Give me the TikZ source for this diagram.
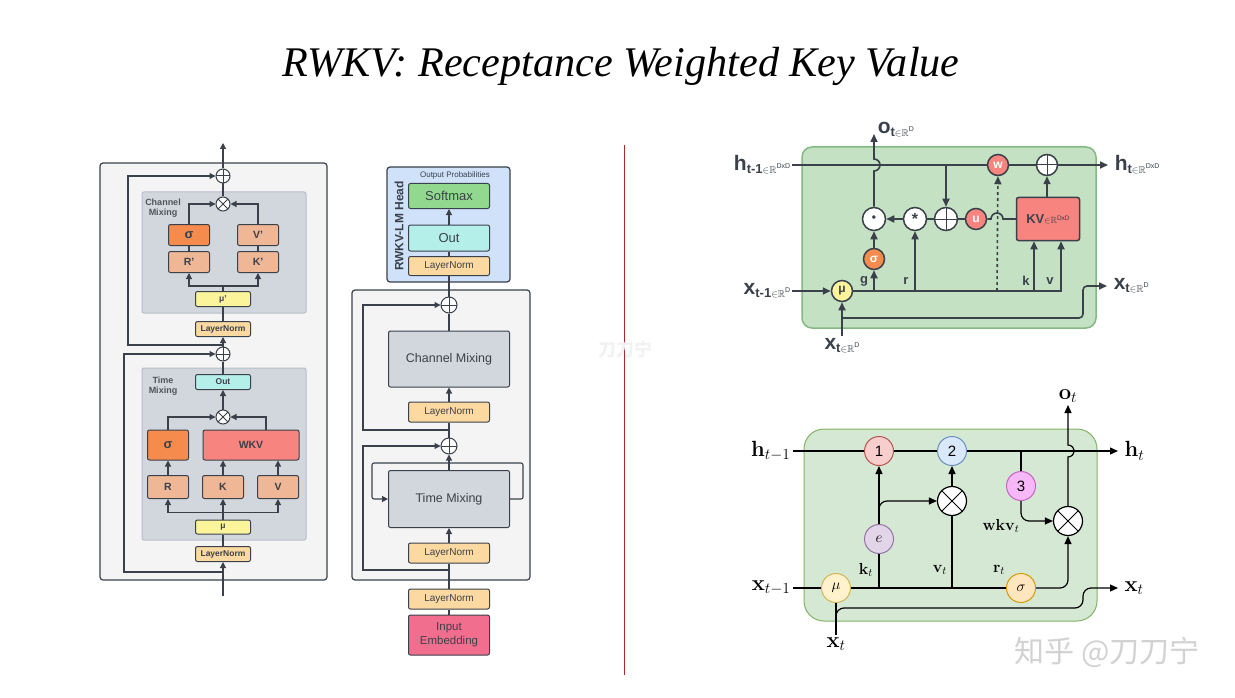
\RequirePackage{fix-cm}
\documentclass[tikz,border=0pt]{standalone}
\usepackage{amssymb}
\usepackage[no-math]{fontspec}
\setmainfont{Liberation Sans}
\newfontfamily\titlefont{Liberation Serif}
\newfontfamily\cjkfont{Noto Sans CJK SC}
\usetikzlibrary{arrows.meta,positioning}
\definecolor{linec}{HTML}{3B414B}
\definecolor{outerfill}{HTML}{F4F4F5}
\definecolor{mixfill}{HTML}{D2D6DD}
\definecolor{mixline}{HTML}{B9BEC6}
\definecolor{lnfill}{HTML}{FCD9A0}
\definecolor{salmon}{HTML}{F0B796}
\definecolor{orng}{HTML}{F58B4C}
\definecolor{wkvred}{HTML}{F7847F}
\definecolor{muyel}{HTML}{FBF49A}
\definecolor{outcyan}{HTML}{B4EFEA}
\definecolor{smgreen}{HTML}{92D88E}
\definecolor{embpink}{HTML}{F26E8E}
\definecolor{headblue}{HTML}{CFE2FA}
\definecolor{grnfill}{HTML}{C4E1C3}
\definecolor{grnline}{HTML}{84BA82}
\definecolor{cellfill}{HTML}{D5E8D4}
\definecolor{cellline}{HTML}{82B366}
\definecolor{divred}{HTML}{B02A2A}
% labels of the top right cell, e.g. h_{t-1 in R^DxD}
\newcommand\vlab[3]{{\bfseries\fontsize{21}{21}\selectfont #1}{\bfseries\fontsize{13}{13}\selectfont\raisebox{-3pt}{#2}}{\fontsize{10}{10}\selectfont\raisebox{-3pt}{${\in}\mathbb{R}$}}{\fontsize{7}{7}\selectfont\raisebox{2pt}{#3}}}
\begin{document}
\begin{tikzpicture}[x=1pt,y=-1pt,
    arr/.style={-{Triangle[length=6pt,width=6pt]}},
    barr/.style={-{Triangle[length=8pt,width=7pt]}},
    box/.style={draw, line width=1pt, rounded corners=2pt, inner sep=0pt},
    tinybox/.style={box, minimum width=55pt, minimum height=15pt, font=\bfseries\fontsize{8.5}{9}\selectfont},
    midbox/.style={box, minimum width=41pt, minimum height=23pt, font=\bfseries\fontsize{10.5}{12}\selectfont},
    widebox/.style={box, minimum width=81pt, minimum height=20pt, font=\fontsize{10}{12}\selectfont},
    bigbox/.style={box, fill=mixfill, minimum width=121pt, minimum height=56pt, font=\fontsize{12.5}{14}\selectfont},
    grp/.style={align=center, font=\bfseries\fontsize{9}{10}\selectfont, text=linec!90},
    sumop/.style={circle, draw, fill=white, line width=1pt, inner sep=0pt, minimum size=#1,
      path picture={\draw[line width=1pt] (path picture bounding box.north) -- (path picture bounding box.south)
        (path picture bounding box.west) -- (path picture bounding box.east);}},
    sumop/.default=14pt,
    prodop/.style={circle, draw, fill=white, line width=1pt, inner sep=0pt, minimum size=#1,
      path picture={\draw[line width=1pt] (path picture bounding box.north west) -- (path picture bounding box.south east)
        (path picture bounding box.north east) -- (path picture bounding box.south west);}},
    prodop/.default=14pt,
    dotop/.style={circle, draw, line width=1.5pt, inner sep=0pt, minimum size=21pt, font=\bfseries\fontsize{12}{12}\selectfont},
    cell/.style={circle, draw, line width=1pt, inner sep=0pt, minimum size=29pt, font=\fontsize{15}{15}\selectfont},
    blab/.style={font=\fontsize{22}{22}\selectfont, inner sep=2pt},
    slab/.style={font=\fontsize{16}{16}\selectfont, inner sep=1pt}]
\fill[white] (0,0) rectangle (1235,698);
\useasboundingbox (0,0) rectangle (1235,698);

\node[font=\titlefont\itshape\fontsize{42.2}{48}\selectfont, anchor=base] (title) at (621,77) {RWKV: Receptance Weighted Key Value};

% ---------- block detail
\begin{scope}[color=linec, line width=1.1pt]
\draw[fill=outerfill, line width=1.2pt, rounded corners=3pt] (100,163) rectangle (327,580);
\draw[fill=mixfill, draw=mixline, line width=1pt, rounded corners=2pt] (142,192) rectangle (306,313);
\draw[fill=mixfill, draw=mixline, line width=1pt, rounded corners=2pt] (142,368) rectangle (306,540);
\node[grp] at (163,208) {Channel\\Mixing};
\node[grp] at (163,386) {Time\\Mixing};
\coordinate (tin) at (223,596);
\coordinate (ctop) at (223,143);
\node[tinybox, fill=lnfill] (tln) at (223,554) {LayerNorm};
\node[tinybox, fill=muyel, minimum height=14pt] (tmu) at (223,527) {μ};
\node[midbox, fill=salmon] (tr) at (168,487) {R};
\node[midbox, fill=salmon] (tk) at (223,487) {K};
\node[midbox, fill=salmon] (tv) at (278,487) {V};
\node[midbox, fill=orng, minimum height=30pt, font=\bfseries\fontsize{13}{13}\selectfont] (tsig) at (168,445) {σ};
\node[midbox, fill=wkvred, minimum width=96pt, minimum height=30pt] (twkv) at (251,445) {WKV};
\node[prodop] (tmul) at (223,417) {};
\node[tinybox, fill=outcyan] (tout) at (223,382) {Out};
\node[sumop] (tadd) at (223,354) {};
\node[tinybox, fill=lnfill] (cln) at (223,329) {LayerNorm};
\node[tinybox, fill=muyel] (cmu) at (223,299) {μ'};
\node[midbox, fill=salmon, minimum height=21pt] (cr) at (189,262) {R'};
\node[midbox, fill=orng, minimum height=21pt, font=\bfseries\fontsize{13}{13}\selectfont] (csig) at (189,235) {σ};
\node[midbox, fill=salmon, minimum height=21pt] (ck) at (258,262) {K'};
\node[midbox, fill=salmon, minimum height=21pt] (cv) at (258,235) {V'};
\node[prodop] (cmul) at (223,204) {};
\node[sumop] (cadd) at (223,176) {};

\draw[arr] (tin) -- (tln);
\draw (tln) -- (tmu);
\draw (tmu.north) -- ++(0,-7) coordinate (tbr);
\draw[arr] (tbr) -| (tr);
\draw[arr] (tbr) -| (tv);
\draw[arr] (tbr) -- (tk);
\draw[arr] (tr) -- (tsig);
\draw[arr] (tk) -- (tk.north |- twkv.south);
\draw[arr] (tv) -- (tv.north |- twkv.south);
\draw[arr] (tsig) |- (tmul);
\draw[arr] ([xshift=15pt]twkv.north) |- (tmul);
\draw[arr] (tmul) -- (tout);
\draw (tout) -- (tadd);
\draw[arr] (tadd) -- (cln);
\draw (cln) -- (cmu);
\draw (cmu.north) -- ++(0,-5) coordinate (cbr);
\draw[arr] (cbr) -| (cr);
\draw[arr] (cbr) -| (ck);
\draw (cr) -- (csig);
\draw (ck) -- (cv);
\draw[arr] (csig) |- (cmul);
\draw[arr] (cv) |- (cmul);
\draw (cmul) -- (cadd);
\draw[arr] (cadd) -- (ctop);
% residual paths
\coordinate (tres) at (223,572);
\coordinate (cres) at (223,345);
\draw[arr] (tres) -- ++(-99,0) |- (tadd);
\draw[arr] (cres) -- ++(-95,0) |- (cadd);
\end{scope}

% ---------- whole model
\begin{scope}[color=linec, line width=1.1pt]
\draw[fill=outerfill, line width=1.2pt, rounded corners=3pt] (352,290) rectangle (530,580);
\draw[fill=headblue, line width=1.2pt, rounded corners=3pt] (387,167) rectangle (510,282);
\node[font=\fontsize{8}{9}\selectfont] at (455,175) {Output Probabilities};
\node[rotate=90, font=\bfseries\fontsize{12}{12}\selectfont] at (399,226) {RWKV-LM Head};
\node[widebox, fill=embpink, minimum height=40pt, align=center, font=\fontsize{11.5}{14}\selectfont] (emb) at (449,635) {Input\\Embedding};
\node[widebox, fill=lnfill] (ln0) at (449,599) {LayerNorm};
\node[widebox, fill=lnfill] (ln3) at (449,553) {LayerNorm};
\node[bigbox, minimum height=57pt] (tmix) at (449,499) {Time Mixing};
\node[sumop=16pt] (add3) at (449,446) {};
\node[widebox, fill=lnfill] (ln4) at (449,412) {LayerNorm};
\node[bigbox] (cmix) at (449,359) {Channel Mixing};
\node[sumop=16pt] (add4) at (449,305) {};
\node[widebox, fill=lnfill, minimum height=19pt] (ln5) at (449,266) {LayerNorm};
\node[widebox, fill=outcyan, minimum height=26pt, font=\fontsize{13}{14}\selectfont] (hout) at (449,238) {Out};
\node[widebox, fill=smgreen, minimum height=25pt, font=\fontsize{13}{14}\selectfont] (soft) at (449,196) {Softmax};

\draw (emb) -- (ln0);
\draw (ln0) -- (ln3);
\draw[arr] (ln3) -- (tmix);
\draw[arr] (tmix) -- (add3);
\draw (add3) -- (ln4);
\draw[arr] (ln4) -- (cmix);
\draw (cmix) -- (add4);
\draw (add4) -- (ln5);
\draw (ln5) -- (hout);
\draw[arr] (hout) -- (soft);
\draw[arr, rounded corners=2pt] (tmix.east) -- ++(13,0) -- ++(0,-36) -| ([xshift=-16pt]tmix.west) -- (tmix.west);
\coordinate (mres3) at (449,570);
\coordinate (mres4) at (449,430);
\draw[arr] (mres3) -- ++(-86,0) |- (add3);
\draw[arr] (mres4) -- ++(-86,0) |- (add4);
\end{scope}

% divider and marks
\draw[divred, line width=1pt] (624,145) -- (624,675);
\node[font=\cjkfont\bfseries\fontsize{18}{18}\selectfont, text=gray!10] at (625,350) {刀刀宁};
\node[font=\cjkfont\fontsize{30}{30}\selectfont, text=gray!35] at (1107,652) {知乎 @刀刀宁};

% ---------- top right cell
\begin{scope}[color=linec, line width=1.6pt]
\draw[fill=grnfill, draw=grnline, line width=1.5pt, rounded corners=10pt] (802,147) rectangle (1096,328);
\coordinate (ahin) at (792,165);
\coordinate (ahout) at (1108,165);
\coordinate (axin) at (792,291);
\coordinate (axout) at (1107,286);
\coordinate (aoout) at (874,134);
\coordinate (axt) at (842,336);
\coordinate (ahbr) at (946,165);
\coordinate (agbr) at (874,291);
\coordinate (arbr) at (915,291);
\coordinate (awbr) at (997,291);
\coordinate (akbr) at (1034,291);
\coordinate (avbr) at (1061,291);
\coordinate (axbr) at (842,318);
\node[dotop, fill=wkvred, text=white] (aw) at (998,165) {w};
\node[sumop=21pt, line width=1.5pt] (ahsum) at (1047,165) {};
\node[dotop, fill=white, minimum size=23pt] (agate) at (874,219) {\textbullet};
\node[dotop, fill=white, minimum size=23pt, font=\bfseries\fontsize{16}{16}\selectfont] (astar) at (915,219) {*};
\node[sumop=23pt, line width=1.5pt] (ausum) at (946,219) {};
\node[dotop, fill=wkvred, text=white] (au) at (976,219) {u};
\node[box, fill=wkvred, line width=1.5pt, minimum width=63pt, minimum height=43pt] (akv) at (1048,219) {{\bfseries\fontsize{13}{13}\selectfont KV}{\fontsize{9}{9}\selectfont${\in}\mathbb{R}$}\raisebox{3pt}{\fontsize{6.5}{7}\selectfont DxD}};
\node[dotop, fill=orng, text=white] (asig) at (874,259) {σ};
\node[dotop, fill=muyel] (amu) at (842,291) {μ};

\draw (ahin) -- (aw);
\draw (aw) -- (ahsum);
\draw[barr] (ahsum) -- (ahout);
\draw[barr] (ahbr) -- (ausum);
\draw[barr] (akv.north -| ahsum) -- (ahsum);
\draw (akv.west) -- (1003,219) arc[start angle=0, end angle=180, radius=6pt] -- (au);
\draw (au) -- (ausum);
\draw (ausum) -- (astar);
\draw[barr] (astar) -- (agate);
\draw[barr] (agate) -- (874,171) arc[start angle=-90, end angle=90, radius=6pt] -- (aoout);
\draw[barr] (axin) -- (amu);
\draw[barr] (amu) -- (avbr) -- (avbr |- akv.south);
\draw[barr] (agbr) -- (asig);
\draw[barr] (asig) -- (agate);
\draw[barr] (arbr) -- (astar);
\draw[barr, dashed] (awbr) -- (aw);
\draw[barr] (akbr) -- (akbr |- akv.south);
\draw[barr] (axt) -- (amu);
\draw[barr, rounded corners=4pt] (axbr) -- (1083,318) -- (1083,286) -- (axout);

\node[font=\bfseries\fontsize{13}{13}\selectfont] at (864,281) {g};
\node[font=\bfseries\fontsize{13}{13}\selectfont] at (906,281) {r};
\node[font=\bfseries\fontsize{13}{13}\selectfont] at (1026,281) {k};
\node[font=\bfseries\fontsize{13}{13}\selectfont] at (1050,281) {v};
\node[anchor=east, inner sep=1pt] at (ahin) {\vlab{h}{t-1}{DxD}};
\node[anchor=west, inner sep=6pt] at (ahout) {\vlab{h}{t}{DxD}};
\node[anchor=east, inner sep=1pt] at (axin) {\vlab{x}{t-1}{D}};
\node[anchor=west, inner sep=6pt] at (axout) {\vlab{x}{t}{D}};
\node[anchor=north, inner sep=2pt] at (axt) {\vlab{x}{t}{D}};
\node[anchor=south west, inner sep=1pt] at (876,139) {\vlab{o}{t}{D}};
\end{scope}

% ---------- bottom right cell
\begin{scope}[color=black, line width=1.2pt]
\draw[fill=cellfill, draw=cellline, line width=1pt, rounded corners=20pt] (804,429) rectangle (1097,621);
\coordinate (bhin) at (793,451);
\coordinate (bhout) at (1118,451);
\coordinate (bxin) at (793,588);
\coordinate (bxout) at (1118,588);
\coordinate (bxt) at (836,635);
\coordinate (boout) at (1068,405);
\coordinate (bh3) at (1021,451);
\coordinate (bkbr) at (879,588);
\coordinate (bvbr) at (952,588);
\coordinate (bebr) at (879,517);
\coordinate (bxbr) at (836,618);
\node[cell, fill={rgb,255:red,248;green,206;blue,204}, draw={rgb,255:red,184;green,84;blue,80}] (b1) at (879,451) {1};
\node[cell, fill={rgb,255:red,218;green,232;blue,252}, draw={rgb,255:red,108;green,142;blue,191}] (b2) at (952,451) {2};
\node[cell, fill={rgb,255:red,246;green,184;blue,246}, draw={rgb,255:red,196;green,100;blue,196}] (b3) at (1021,486) {3};
\node[cell, fill={rgb,255:red,225;green,213;blue,231}, draw={rgb,255:red,150;green,115;blue,166}] (be) at (879,539) {$e$};
\node[cell, fill={rgb,255:red,255;green,242;blue,204}, draw={rgb,255:red,214;green,182;blue,86}] (bmu) at (836,588) {$\mu$};
\node[cell, fill={rgb,255:red,255;green,230;blue,190}, draw={rgb,255:red,215;green,155;blue,0}] (bsig) at (1021,588) {$\sigma$};
\node[prodop=29pt, line width=1.2pt] (bm1) at (952,501) {};
\node[prodop=29pt, line width=1.2pt] (bm2) at (1068,521) {};

\draw (bhin) -- (b1);
\draw (b1) -- (b2);
\draw[barr] (b2) -- (bhout);
\draw (bh3) -- (b3);
\draw[barr, rounded corners=8pt] (b3) |- (bm2);
\draw[barr] (bm2) -- (1068,457) arc[start angle=-90, end angle=90, radius=6pt] -- (boout);
\draw (bxin) -- (bmu);
\draw (bmu) -- (bsig);
\draw[barr, rounded corners=8pt] (bsig) -| (bm2);
\draw (bkbr) -- (be);
\draw[barr] (be) -- (b1);
\draw[barr, rounded corners=8pt] (bebr) |- (bm1);
\draw (bvbr) -- (bm1);
\draw[barr] (bm1) -- (b2);
\draw (bxt) -- (bmu);
\draw[barr, rounded corners=8pt] (bxbr) |- (1083,608) |- (bxout);

\node[blab, anchor=east] at (bhin) {$\mathbf{h}_{t-1}$};
\node[blab, anchor=west, inner sep=6pt] at (bhout) {$\mathbf{h}_t$};
\node[blab, anchor=east] at (bxin) {$\mathbf{x}_{t-1}$};
\node[blab, anchor=west, inner sep=6pt] at (bxout) {$\mathbf{x}_t$};
\node[blab, anchor=north] at (bxt) {$\mathbf{x}_t$};
\node[blab, anchor=south] at (boout) {$\mathbf{o}_t$};
\node[slab] at (866,570) {$\mathbf{k}_t$};
\node[slab] at (940,570) {$\mathbf{v}_t$};
\node[slab] at (999,570) {$\mathbf{r}_t$};
\node[slab] at (1001,526) {$\mathbf{wkv}_t$};
\end{scope}
\end{tikzpicture}
\end{document}
